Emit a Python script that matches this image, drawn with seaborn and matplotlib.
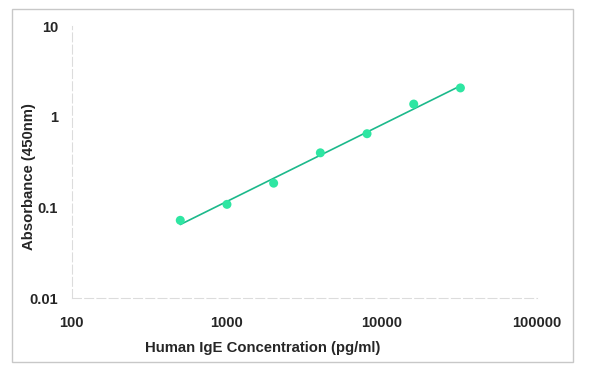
import numpy as np
import pandas as pd
import seaborn as sns
import matplotlib

matplotlib.use("Agg")
import matplotlib.pyplot as plt
from matplotlib.patches import Rectangle

# Standard curve data
concentration = [500, 1000, 2000, 4000, 8000, 16000, 32000]
absorbance = [0.072, 0.108, 0.185, 0.40, 0.65, 1.38, 2.08]
x_ticks = [100, 1000, 10000, 100000]
x_tick_labels = ["100", "1000", "10000", "100000"]
y_ticks = [0.01, 0.1, 1, 10]
y_tick_labels = ["0.01", "0.1", "1", "10"]

sns.set_style("white")
plt.rcParams["font.family"] = ["Liberation Sans", "DejaVu Sans"]

df = pd.DataFrame({"conc": concentration, "od": absorbance})

# power-law trendline (linear in log-log)
slope, intercept = np.polyfit(np.log10(df.conc), np.log10(df.od), 1)
fit = pd.DataFrame({"conc": [df.conc.min(), df.conc.max()]})
fit["od"] = 10 ** (intercept + slope * np.log10(fit.conc))

fig = plt.figure(figsize=(5.89, 3.73), dpi=100)
ax = fig.add_axes([0.122, 0.201, 0.790, 0.729])

sns.lineplot(data=fit, x="conc", y="od", color="#1cb98b", linewidth=1.2, ax=ax)
sns.scatterplot(
    data=df, x="conc", y="od", color="#2ee6a2", s=42, edgecolor="none", ax=ax,
    zorder=3,
)

ax.set_xscale("log")
ax.set_yscale("log")
ax.set_xlim(100, 100000)
ax.set_ylim(0.01, 10)
ax.set_xticks(x_ticks)
ax.set_xticklabels(x_tick_labels, fontsize=10.5, fontweight="bold")
ax.set_yticks(y_ticks)
ax.set_yticklabels(y_tick_labels, fontsize=10.5, fontweight="bold")
ax.minorticks_off()
ax.tick_params(axis="x", length=0, pad=13)
ax.tick_params(axis="y", length=0, pad=10)

for side in ["top", "right"]:
    ax.spines[side].set_visible(False)
for side in ["left", "bottom"]:
    ax.spines[side].set_color("#dcdcdc")
    ax.spines[side].set_linewidth(0.8)
    ax.spines[side].set_linestyle((0, (8, 3)))

ax.set_xlabel("Human IgE Concentration (pg/ml)", fontsize=10.7, fontweight="bold")
ax.set_ylabel("Absorbance (450nm)", fontsize=10.7, fontweight="bold")
ax.xaxis.set_label_coords(0.41, -0.158)
ax.yaxis.set_label_coords(-0.078, 0.445)

# light frame around the whole figure
fig.patches.append(
    Rectangle((12 / 589, 1 - 362 / 373), 561 / 589, 353 / 373,
              transform=fig.transFigure, fill=False, edgecolor="#c8c8c8",
              linewidth=1.0)
)

fig.savefig("out.png", dpi=100)
